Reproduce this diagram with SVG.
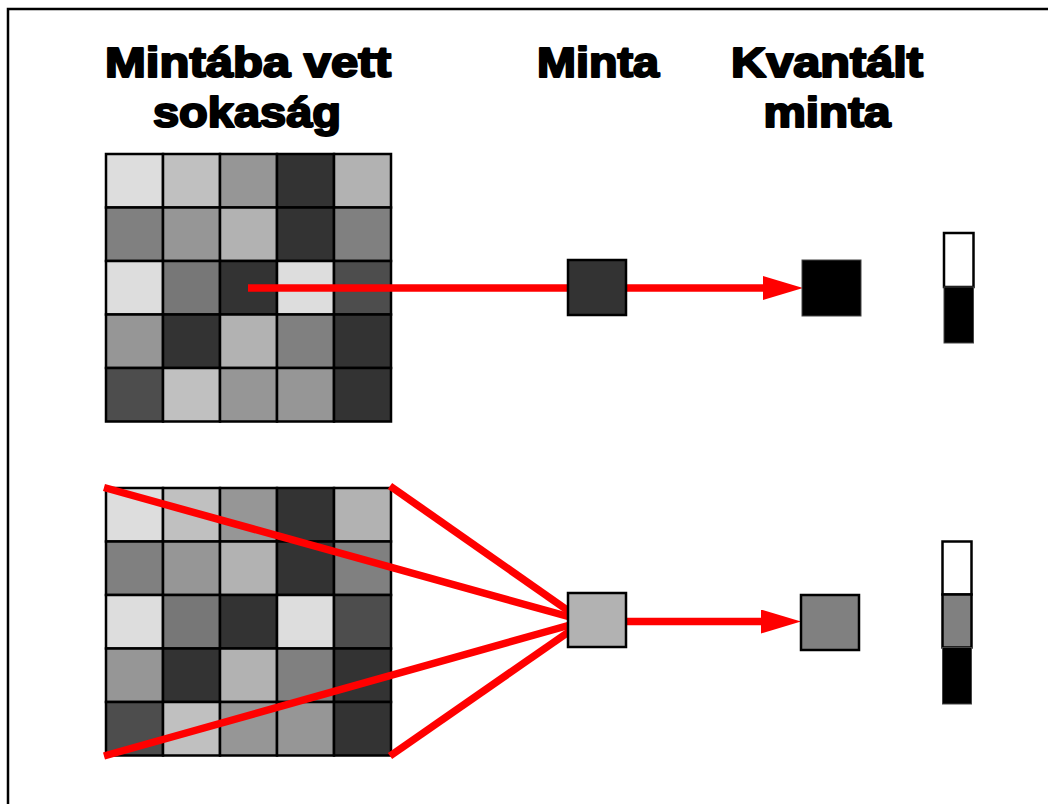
<svg xmlns="http://www.w3.org/2000/svg" width="1048" height="804" viewBox="0 0 1048 804">
  <defs>
    <style>
      .title { font-family: "Liberation Sans", Arial, sans-serif; font-weight: bold; font-size: 43px; fill: #000; stroke: #000; stroke-width: 2.2; stroke-linejoin: round; text-anchor: middle; }
      .cell { stroke: #000; stroke-width: 2.5; }
      .c1 { fill: #dddddd; } .c2 { fill: #c0c0c0; } .c3 { fill: #969696; } .c4 { fill: #333333; }
      .c5 { fill: #b2b2b2; } .c6 { fill: #808080; } .c7 { fill: #777777; } .c8 { fill: #4d4d4d; }
      .wire { stroke: #ff0000; stroke-width: 7.5; fill: none; }
      .box { stroke: #000; stroke-width: 2.5; }
    </style>
    <marker id="arrow" markerUnits="userSpaceOnUse" markerWidth="40" markerHeight="24" refX="2" refY="12" orient="auto">
      <path d="M0,0 L40,12 L0,24 z" fill="#ff0000"/>
    </marker>
    <!-- 5x5 population grid, 57 x 53.5 cells -->
    <g id="grid">
      <rect class="cell c1" x="0" y="0" width="57" height="53.5"/>
      <rect class="cell c2" x="57" y="0" width="57" height="53.5"/>
      <rect class="cell c3" x="114" y="0" width="57" height="53.5"/>
      <rect class="cell c4" x="171" y="0" width="57" height="53.5"/>
      <rect class="cell c5" x="228" y="0" width="57" height="53.5"/>
      <rect class="cell c6" x="0" y="53.5" width="57" height="53.5"/>
      <rect class="cell c3" x="57" y="53.5" width="57" height="53.5"/>
      <rect class="cell c5" x="114" y="53.5" width="57" height="53.5"/>
      <rect class="cell c4" x="171" y="53.5" width="57" height="53.5"/>
      <rect class="cell c6" x="228" y="53.5" width="57" height="53.5"/>
      <rect class="cell c1" x="0" y="107" width="57" height="53.5"/>
      <rect class="cell c7" x="57" y="107" width="57" height="53.5"/>
      <rect class="cell c4" x="114" y="107" width="57" height="53.5"/>
      <rect class="cell c1" x="171" y="107" width="57" height="53.5"/>
      <rect class="cell c8" x="228" y="107" width="57" height="53.5"/>
      <rect class="cell c3" x="0" y="160.5" width="57" height="53.5"/>
      <rect class="cell c4" x="57" y="160.5" width="57" height="53.5"/>
      <rect class="cell c5" x="114" y="160.5" width="57" height="53.5"/>
      <rect class="cell c6" x="171" y="160.5" width="57" height="53.5"/>
      <rect class="cell c4" x="228" y="160.5" width="57" height="53.5"/>
      <rect class="cell c8" x="0" y="214" width="57" height="53.5"/>
      <rect class="cell c2" x="57" y="214" width="57" height="53.5"/>
      <rect class="cell c3" x="114" y="214" width="57" height="53.5"/>
      <rect class="cell c3" x="171" y="214" width="57" height="53.5"/>
      <rect class="cell c4" x="228" y="214" width="57" height="53.5"/>
    </g>
  </defs>

  <rect width="1048" height="804" fill="#fff"/>
  <!-- frame -->
  <path d="M8,804 V9 H1048" fill="none" stroke="#000" stroke-width="2.5"/>

  <!-- headings -->
  <g id="headings">
    <text class="title" x="248" y="77" textLength="286" lengthAdjust="spacingAndGlyphs">Mintába vett</text>
    <text class="title" x="247" y="127" textLength="188" lengthAdjust="spacingAndGlyphs">sokaság</text>
    <text class="title" x="598" y="77" textLength="122" lengthAdjust="spacingAndGlyphs">Minta</text>
    <text class="title" x="827" y="77" textLength="192" lengthAdjust="spacingAndGlyphs">Kvantált</text>
    <text class="title" x="827" y="127" textLength="127" lengthAdjust="spacingAndGlyphs">minta</text>
  </g>

  <!-- populations -->
  <g id="population-top"><use href="#grid" x="106" y="154"/></g>
  <g id="population-bottom"><use href="#grid" x="106" y="488"/></g>

  <!-- connectors -->
  <g id="connectors">
    <line class="wire" x1="248" y1="288" x2="765" y2="288" marker-end="url(#arrow)"/>
    <line class="wire" x1="104" y1="487.5" x2="570" y2="617"/>
    <line class="wire" x1="390" y1="486" x2="570" y2="612"/>
    <line class="wire" x1="104" y1="756" x2="570" y2="625"/>
    <line class="wire" x1="390" y1="756" x2="570" y2="631"/>
    <line class="wire" x1="626" y1="621.5" x2="763" y2="621.5" marker-end="url(#arrow)"/>
  </g>

  <!-- samples -->
  <g id="sample-top"><rect class="box c4" x="568" y="260" width="58" height="55"/></g>
  <g id="sample-bottom"><rect class="box c5" x="568" y="593" width="58" height="54"/></g>

  <!-- quantized samples -->
  <g id="quantized-top"><rect x="802" y="260" width="59" height="56" fill="#000" stroke="#444" stroke-width="1"/></g>
  <g id="quantized-bottom"><rect class="box c6" x="801" y="595" width="58" height="55"/></g>

  <!-- quantization level scales -->
  <g id="levels-two">
    <rect x="944" y="233" width="29.5" height="54" fill="#fff" stroke="#000" stroke-width="2.5"/>
    <rect x="944" y="287" width="29.5" height="56" fill="#000" stroke="#444" stroke-width="1"/>
  </g>
  <g id="levels-three">
    <rect x="942.5" y="541.5" width="29" height="53" fill="#fff" stroke="#000" stroke-width="2.5"/>
    <rect x="942.5" y="594.5" width="29" height="53" fill="#808080" stroke="#000" stroke-width="2.5"/>
    <rect x="942.5" y="647.5" width="29" height="56.5" fill="#000" stroke="#444" stroke-width="1"/>
  </g>
</svg>
